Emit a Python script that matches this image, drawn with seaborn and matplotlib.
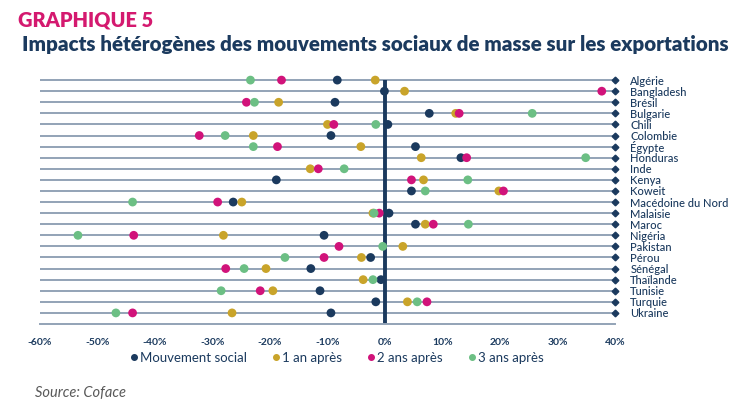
import numpy as np
import pandas as pd
import matplotlib
matplotlib.use("Agg")
import matplotlib.pyplot as plt
import seaborn as sns
from matplotlib.lines import Line2D

sns.set_theme(style="white")
plt.rcParams['font.family'] = ['Lato', 'DejaVu Sans']

countries = ["Algérie", "Bangladesh", "Brésil", "Bulgarie", "Chili", "Colombie",
             "Égypte", "Honduras", "Inde", "Kenya", "Koweit", "Macédoine du Nord",
             "Malaisie", "Maroc", "Nigéria", "Pakistan", "Pérou", "Sénégal",
             "Thaïlande", "Tunisie", "Turquie", "Ukraine"]
nan = np.nan
mouvement = [-8.3, -0.1, -8.7, 7.7, 0.5, -9.4, 5.3, 13.2, nan, -18.9, 4.6, -26.4,
             0.7, 5.3, -10.6, nan, -2.5, -12.9, -0.7, -11.3, -1.6, -9.4]
un_an = [-1.7, 3.4, -18.5, 12.3, -10.0, -22.9, -4.2, 6.3, -13.0, 6.7, 19.8, -24.9,
         -2.1, 7.0, -28.1, 3.1, -4.1, -20.7, -3.8, -19.5, 3.9, -26.6]
deux_ans = [-18.0, 37.7, -24.1, 12.9, -8.9, -32.3, -18.7, 14.2, -11.6, 4.6, 20.6, -29.1,
            -1.0, 8.4, -43.7, -8.0, -10.6, -27.7, nan, -21.7, 7.3, -43.9]
trois_ans = [-23.4, nan, -22.7, 25.6, -1.6, -27.8, -22.9, 34.9, -7.1, 14.4, 7.0, -43.9,
             -1.9, 14.5, -53.4, -0.4, -17.4, -24.5, -2.1, -28.5, 5.6, -46.8]
series_names = ["Mouvement social", "1 an après", "2 ans après", "3 ans après"]
xticks = [-60, -50, -40, -30, -20, -10, 0, 10, 20, 30, 40]

navy = "#1b3a5e"
gold = "#c9a42a"
pink = "#d1137a"
green = "#6cbf84"
grid_col = "#93a3b7"
palette = dict(zip(series_names, [navy, gold, pink, green]))

wide = pd.DataFrame({"Pays": countries,
                     series_names[0]: mouvement,
                     series_names[1]: un_an,
                     series_names[2]: deux_ans,
                     series_names[3]: trois_ans})
long = wide.melt(id_vars="Pays", var_name="Série", value_name="Valeur").dropna()
long["Pays"] = pd.Categorical(long["Pays"], categories=countries, ordered=True)

W, H = 750, 416
fig = plt.figure(figsize=(W / 100, H / 100), dpi=100)
ax = fig.add_axes([40 / W, 1 - 324 / H, 575 / W, 250 / H])

n = len(countries)
ax.hlines(range(n), -60, 40, color=grid_col, lw=1.4, zorder=1)
ax.plot([40] * n, range(n), linestyle="none", marker="D", ms=3.4, color=navy, zorder=2,
        clip_on=False)
ax.vlines(0, 0, n + 0.5, color=navy, lw=2.8, zorder=1.5)

sns.scatterplot(data=long, x="Valeur", y="Pays", hue="Série", palette=palette,
                hue_order=series_names, s=40, linewidth=0, edgecolor="none",
                legend=False, zorder=3, ax=ax)

ax.set_xlim(-60, 40)
ax.set_ylim(n, -0.55)
ax.set_xticks(xticks)
ax.set_xticklabels([f"{v}%" for v in xticks])
ax.set_yticks(range(n))
ax.set_yticklabels(countries)
ax.yaxis.tick_right()
ax.set_xlabel("")
ax.set_ylabel("")
for s in ["top", "left", "right"]:
    ax.spines[s].set_visible(False)
ax.spines["bottom"].set_color(grid_col)
ax.spines["bottom"].set_linewidth(1.4)
ax.tick_params(axis="x", direction="out", length=5, width=1.2, color=grid_col,
               labelsize=7.5, labelcolor=navy, pad=5)
for t in ax.get_xticklabels():
    t.set_fontweight("bold")
ax.tick_params(axis="y", length=0, pad=11, labelsize=8, labelcolor=navy)
for t in ax.get_yticklabels():
    t.set_fontweight("medium")

handles = [Line2D([], [], linestyle="none", marker="o", ms=4, color=palette[s])
           for s in series_names]
fig.legend(handles, series_names, loc="center", bbox_to_anchor=(337 / W, 1 - 358 / H),
           ncol=4, frameon=False, fontsize=9.5, handletextpad=0.15, columnspacing=1.9,
           handlelength=0.6, labelcolor=navy)

fig.text(35 / W, 1 - 393 / H, "Source: Coface", fontsize=10.5, style="italic",
         color="#595959", va="center", fontweight="normal")

t1 = fig.text(18 / W, 1 - 20 / H, "GRAPHIQUE 5", color="#d4196f", fontweight="heavy",
              fontsize=13, va="center")
t2 = fig.text(22 / W, 1 - 45 / H,
              "Impacts hétérogènes des mouvements sociaux de masse sur les exportations",
              color=navy, fontweight="heavy", fontsize=13, va="center")

fig.canvas.draw()
r = fig.canvas.get_renderer()
for t, target in [(t1, 134), (t2, 706)]:
    w = t.get_window_extent(r).width
    t.set_fontsize(t.get_fontsize() * target / w)

fig.savefig("out.png", dpi=100)
